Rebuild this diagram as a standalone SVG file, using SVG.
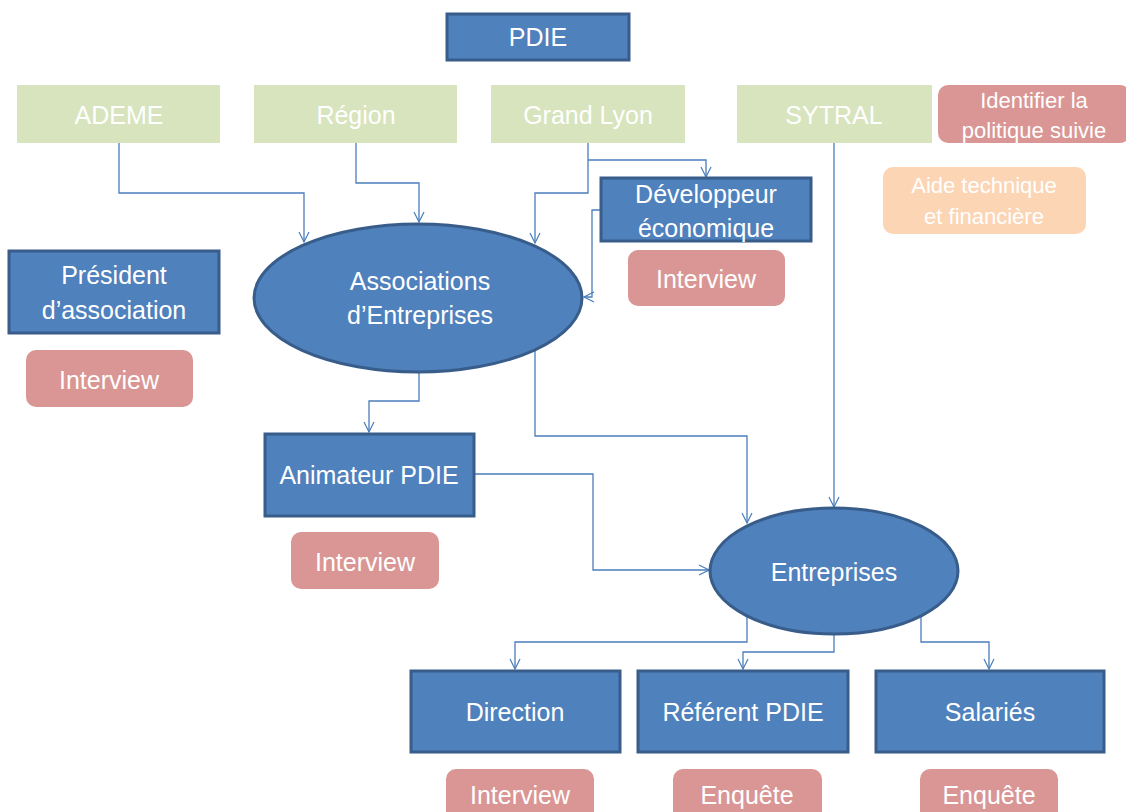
<svg xmlns="http://www.w3.org/2000/svg" width="1126" height="812" viewBox="0 0 1126 812">
<defs>
<marker id="arr" viewBox="0 0 12 12" refX="11" refY="6" markerWidth="12" markerHeight="12" markerUnits="userSpaceOnUse" orient="auto">
<path d="M1,1 L11,6 L1,11" fill="none" stroke="#4a7ebb" stroke-width="1.2"/>
</marker>
<style>
.blue{fill:#4f81bd;stroke:#385d8a;stroke-width:3}
.green{fill:#d7e4bd}
.pink{fill:#d99694}
.peach{fill:#fcd5b5}
text{font-family:"Liberation Sans",Arial,sans-serif;fill:#fff;text-anchor:middle;font-size:25px}
.s{font-size:22px}
.c path{fill:none;stroke:#4a7ebb;stroke-width:1.3;marker-end:url(#arr)}
</style>
</defs>
<rect width="1126" height="812" fill="#fff"/>
<g class="c" id="connectors">
<path d="M119,143 V193 H304 V242"/>
<path d="M356,143 V183 H419 V222"/>
<path d="M588,143 V193 H535 V243"/>
<path d="M588,160 H706 V177"/>
<path d="M600,210 H592 V297 H584"/>
<path d="M419,372 V401 H369 V432"/>
<path d="M535,350 V436 H747 V523"/>
<path d="M834,143 V507"/>
<path d="M475,474 H593 V570 H709"/>
<path d="M747,614 V642 H515 V669"/>
<path d="M834,634 V652 H743 V669"/>
<path d="M921,614 V642 H989 V669"/>
</g>
<g id="pdie"><rect class="blue" x="447" y="14" width="182" height="46"/><text x="538" y="46">PDIE</text></g>
<g id="ademe"><rect class="green" x="17" y="85" width="203" height="58"/><text x="119" y="124">ADEME</text></g>
<g id="region"><rect class="green" x="254" y="85" width="203" height="58"/><text x="356" y="124">Région</text></g>
<g id="grandlyon"><rect class="green" x="491" y="85" width="194" height="58"/><text x="588" y="124">Grand Lyon</text></g>
<g id="sytral"><rect class="green" x="737" y="85" width="195" height="58"/><text x="834" y="124">SYTRAL</text></g>
<g id="identifier"><rect class="pink" x="938" y="85" width="192" height="58" rx="10"/><text class="s" x="1034" y="108">Identifier la</text><text class="s" x="1034" y="138">politique suivie</text></g>
<g id="aide"><rect class="peach" x="883" y="167" width="203" height="67" rx="10"/><text class="s" x="984" y="193">Aide technique</text><text class="s" x="984" y="224">et financière</text></g>
<g id="developpeur"><rect class="blue" x="601" y="178" width="210" height="63"/><text x="706" y="203">Développeur</text><text x="706" y="237">économique</text></g>
<g id="interview-dev"><rect class="pink" x="628" y="250" width="157" height="56" rx="10"/><text x="706" y="288">Interview</text></g>
<g id="president"><rect class="blue" x="9" y="251" width="210" height="82"/><text x="114" y="284">Président</text><text x="114" y="319">d’association</text></g>
<g id="interview-pres"><rect class="pink" x="26" y="350" width="167" height="57" rx="10"/><text x="109" y="389">Interview</text></g>
<g id="associations"><ellipse class="blue" cx="418" cy="298" rx="164" ry="74"/><text x="420" y="290">Associations</text><text x="420" y="324">d’Entreprises</text></g>
<g id="animateur"><rect class="blue" x="265" y="434" width="209" height="82"/><text x="369" y="484">Animateur PDIE</text></g>
<g id="interview-anim"><rect class="pink" x="291" y="532" width="148" height="57" rx="10"/><text x="365" y="571">Interview</text></g>
<g id="entreprises"><ellipse class="blue" cx="834" cy="571" rx="124" ry="63"/><text x="834" y="581">Entreprises</text></g>
<g id="direction"><rect class="blue" x="411" y="671" width="209" height="81"/><text x="515" y="721">Direction</text></g>
<g id="referent"><rect class="blue" x="638" y="671" width="210" height="81"/><text x="743" y="721">Référent PDIE</text></g>
<g id="salaries"><rect class="blue" x="876" y="671" width="228" height="81"/><text x="990" y="721">Salariés</text></g>
<g id="interview-dir"><rect class="pink" x="446" y="769" width="148" height="57" rx="10"/><text x="520" y="804">Interview</text></g>
<g id="enquete-ref"><rect class="pink" x="673" y="769" width="149" height="57" rx="10"/><text x="747" y="804">Enquête</text></g>
<g id="enquete-sal"><rect class="pink" x="920" y="769" width="138" height="57" rx="10"/><text x="989" y="804">Enquête</text></g>
</svg>
